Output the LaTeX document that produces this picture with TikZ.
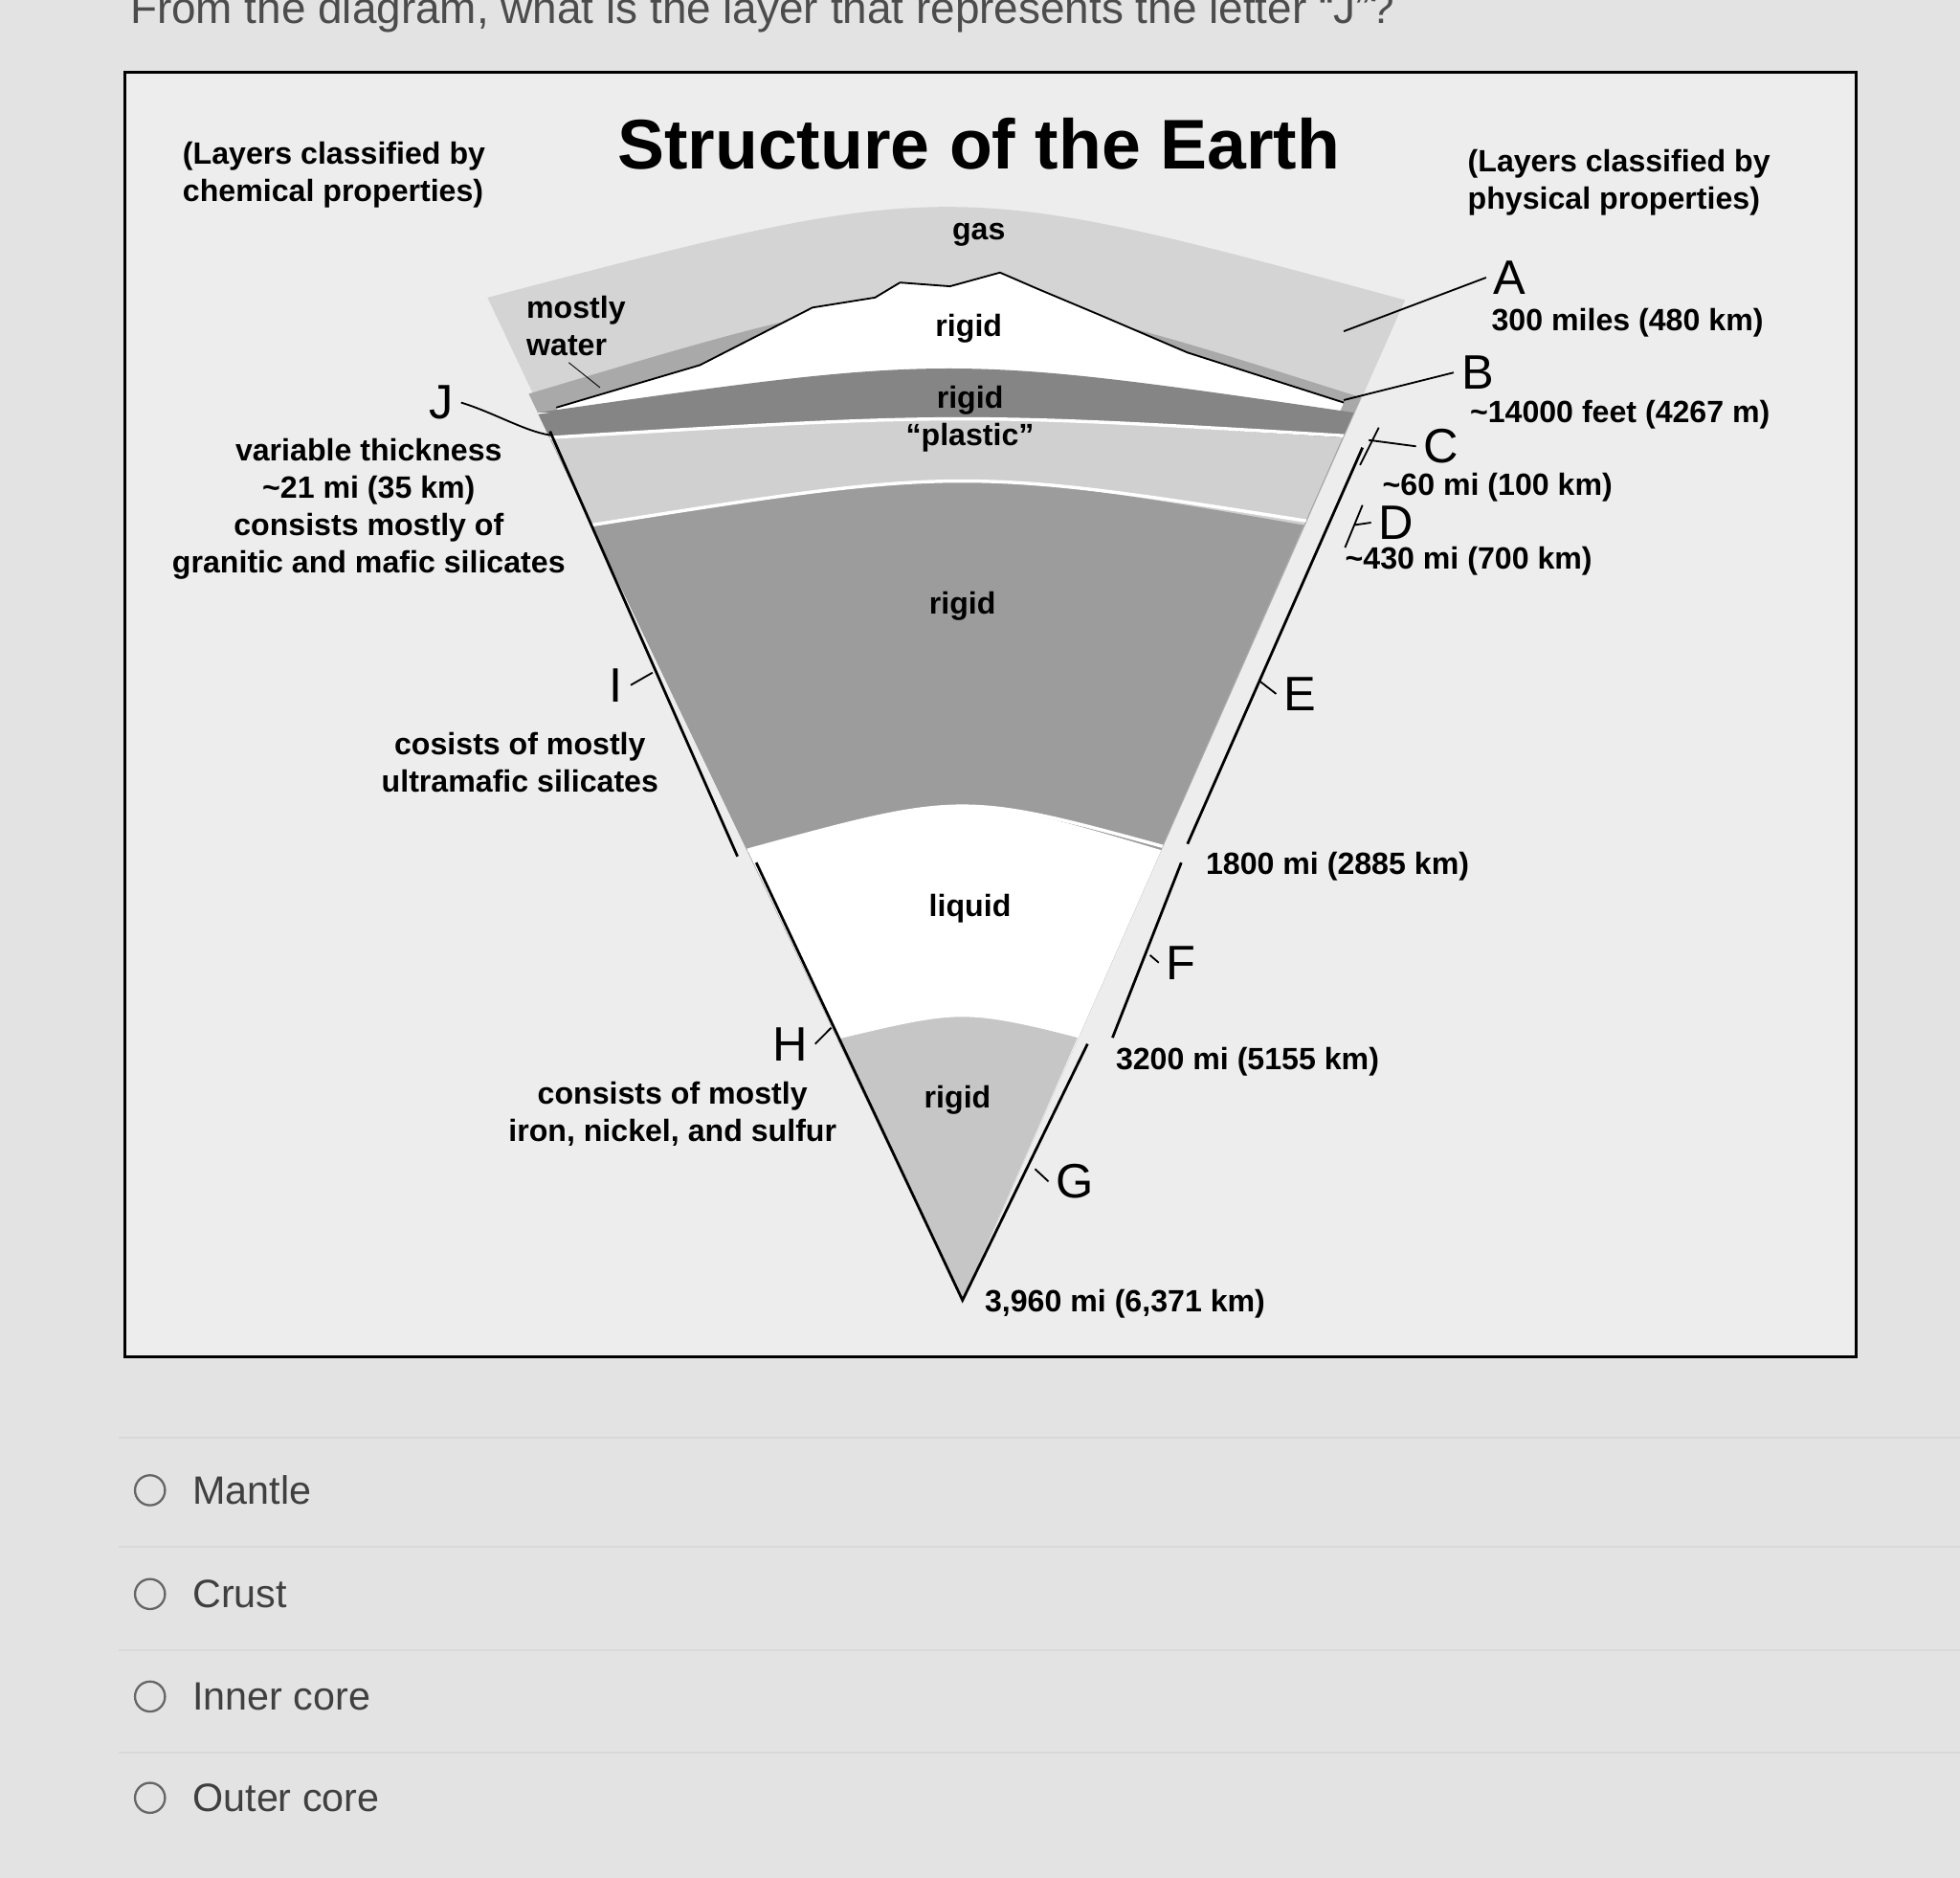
\documentclass[tikz,border=0pt]{standalone}
\usepackage{fontspec}
\setmainfont{Liberation Sans}
\definecolor{page}{HTML}{E3E3E3}
\definecolor{boxbg}{HTML}{EDEDED}
\definecolor{gasc}{HTML}{D4D4D4}
\definecolor{waterc}{HTML}{A9A9A9}
\definecolor{bandc}{HTML}{858585}
\definecolor{plasc}{HTML}{D0D0D0}
\definecolor{mantc}{HTML}{9C9C9C}
\definecolor{innc}{HTML}{C6C6C6}
\newcommand{\lbl}{\node[font=\fontsize{14}{17}\selectfont\bfseries,align=center]}
\newcommand{\lblleft}{\node[font=\fontsize{14}{17}\selectfont\bfseries,align=left]}
\newcommand{\letter}{\node[font=\fontsize{22}{24}\selectfont]}
\newcommand{\opt}{\node[font=\fontsize{18}{20}\selectfont,text=black!75,anchor=west]}
\newcommand{\radio}{\draw[black!60,line width=1pt]}
\begin{document}
\begin{tikzpicture}[x=0.02cm,y=-0.02cm]
\clip (0,0) rectangle (1568,1502);
\fill[page] (0,0) rectangle (1568,1502);
%question
\node[font=\fontsize{20}{22}\selectfont,text=black!70] (q) at (610,10) {From the diagram, what is the layer that represents the letter ``J''?};
\draw[line width=1.2pt,fill=boxbg] (100,58) rectangle (1485,1085);
\coordinate (apex) at (770,1040);
%layers
\fill[gasc] (390,238) .. controls (760,141) .. (1124,240) -- (apex) -- cycle;
\fill[waterc] (423,315) .. controls (760,214) .. (1089,318) -- (apex) -- cycle;
\fill[white] (445,326) -- (560,292) -- (650,246) -- (700,238) -- (720,226) -- (760,229) -- (800,218) -- (830,231) -- (880,252) -- (950,282) -- (1075,322) -- (apex) -- cycle;
\draw[line width=0.8pt] (445,326) -- (560,292) -- (650,246) -- (700,238) -- (720,226) -- (760,229) -- (800,218) -- (830,231) -- (880,252) -- (950,282) -- (1075,322);
\fill[bandc] (430,330) .. controls (760,283) .. (1083,330) -- (apex) -- cycle;
\fill[plasc] (440,350) .. controls (760,330) .. (1074,350) -- (apex) -- cycle;
\fill[mantc] (473,420) .. controls (770,373) .. (1043,420) -- (apex) -- cycle;
\fill[white] (598,680) .. controls (770,633) .. (929,680) -- (apex) -- cycle;
\fill[innc] (669,830) .. controls (770,806) .. (862,830) -- (apex) -- cycle;
\begin{scope}
\clip (430,330) -- (1083,330) -- (apex) -- cycle;
\foreach \a/\c/\b in {430/330/283,440/350/330,473/420/373,598/680/633,669/830/806}
  \draw[white,line width=1.5pt] (\a,\c) .. controls (770,\b) .. (1539-\a,\c);
\end{scope}
%edges
\draw[line width=1.2pt] (440,345) -- (590,685) (605,690) -- (apex) -- (870,835) (890,830) -- (945,690);
\draw[line width=1.2pt] (950,675) -- (1090,358);
%title and headings
\node[font=\fontsize{32}{36}\selectfont\bfseries] (title) at (783,115) {Structure of the Earth};
\lblleft[anchor=west] (chem) at (140,140) {(Layers classified by\\chemical properties)};
\lblleft[anchor=west] (phys) at (1168,146) {(Layers classified by\\physical properties)};
%inside labels
\lbl (gas) at (783,188) {gas};
\lblleft[anchor=west] (water) at (415,261) {mostly\\water};
\draw (455,290) -- (480,310);
\lbl (r1) at (775,263) {rigid};
\lbl (r2) at (776,320) {rigid};
\lbl (pl) at (776,350) {``plastic''};
\lbl (r3) at (770,485) {rigid};
\lbl (liq) at (776,727) {liquid};
\lbl (r4) at (766,880) {rigid};
%right labels
\letter (A) at (1208,222) {A};
\coordinate (a0) at (1075,265);
\draw[line width=0.8pt] (a0) -- (A.west);
\lbl (dA) at (1302,258) {300 miles (480 km)};
\letter (B) at (1182,298) {B};
\coordinate (b0) at (1075,320);
\draw[line width=0.8pt] (b0) -- (B.west);
\lbl (dB) at (1296,332) {\textasciitilde14000 feet (4267 m)};
\letter (C) at (1153,357) {C};
\coordinate (c0) at (1095,352);
\draw[line width=0.8pt] (c0) -- (C.west) (1088,372) -- (1103,342);
\lbl (dC) at (1198,390) {\textasciitilde60 mi (100 km)};
\letter (D) at (1117,418) {D};
\coordinate (d0) at (1083,420);
\draw[line width=0.8pt] (d0) -- (D.west) (1076,438) -- (1090,404);
\lbl (dD) at (1175,449) {\textasciitilde430 mi (700 km)};
\letter (E) at (1040,555) {E};
\coordinate (e0) at (1008,545);
\draw[line width=0.8pt] (e0) -- (E.west);
\lbl (dE) at (1070,693) {1800 mi (2885 km)};
\letter (F) at (945,770) {F};
\coordinate (f0) at (920,764);
\draw[line width=0.8pt] (f0) -- (F.west);
\lbl (dF) at (998,849) {3200 mi (5155 km)};
\letter (G) at (860,945) {G};
\coordinate (g0) at (828,935);
\draw[line width=0.8pt] (g0) -- (G.west);
\lbl (dG) at (900,1043) {3,960 mi (6,371 km)};
%left labels
\letter (J) at (353,322) {J};
\coordinate (j0) at (440,348);
\draw[line width=0.8pt] (J.east) .. controls (395,330) and (420,345) .. (j0);
\lbl (dJ) at (295,407) {variable thickness\\\textasciitilde21 mi (35 km)\\consists mostly of\\granitic and mafic silicates};
\letter (I) at (493,548) {I};
\coordinate (i0) at (522,538);
\draw[line width=0.8pt] (I.east) -- (i0);
\lbl (dI) at (416,610) {cosists of mostly\\ultramafic silicates};
\letter (H) at (632,835) {H};
\coordinate (h0) at (665,822);
\draw[line width=0.8pt] (H.east) -- (h0);
\lbl (dH) at (538,891) {consists of mostly\\iron, nickel, and sulfur};
%answers
\foreach \y in {1150,1237,1320,1402} \draw[black!15,line width=0.8pt] (95,\y) -- (1568,\y);
\radio (120,1192) circle (12);
\opt (o1) at (148,1192) {Mantle};
\radio (120,1275) circle (12);
\opt (o2) at (148,1275) {Crust};
\radio (120,1357) circle (12);
\opt (o3) at (148,1357) {Inner core};
\radio (120,1438) circle (12);
\opt (o4) at (148,1438) {Outer core};
\end{tikzpicture}
\end{document}
